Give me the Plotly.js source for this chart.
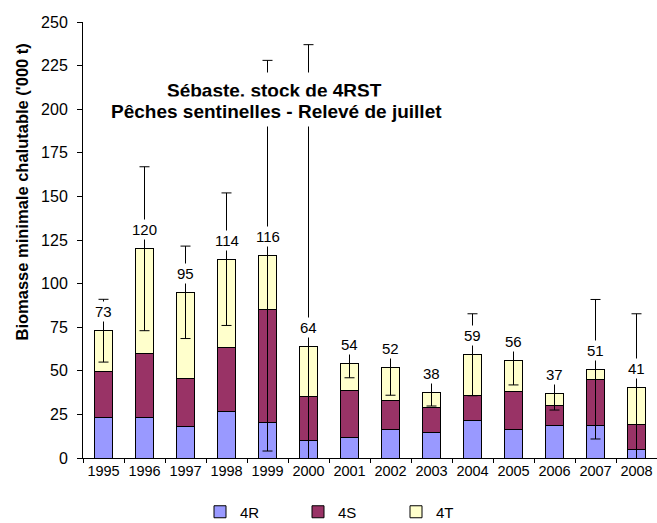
<!DOCTYPE html>
<html>
<head>
<meta charset="utf-8">
<script src="https://cdn.plot.ly/plotly-3.0.1.min.js"></script>
<style>html,body{margin:0;padding:0;background:#fff;}#chart{width:657px;height:523px;}</style>
</head>
<body>
<div id="chart"></div>
<script>
const years = ['1995','1996','1997','1998','1999','2000','2001','2002','2003','2004','2005','2006','2007','2008'];
const r4 = [23.2, 23.0, 17.9, 26.8, 20.2, 10.3, 11.8, 16.6, 14.5, 21.5, 16.6, 18.6, 18.6, 5.0];
const s4 = [26.3, 37.0, 27.6, 36.6, 65.2, 24.7, 27.0, 16.5, 14.4, 14.3, 21.3, 11.6, 26.3, 14.2];
const t4 = [23.5, 60.0, 49.5, 50.6, 30.6, 29.0, 15.2, 18.9, 8.9, 23.4, 18.0, 6.8, 6.0, 21.5];
const errUp   = [18, 47, 26.5, 38, 112, 173, 8, 8, 8, 23.5, 10, 9.5, 40, 42];
const errDown = [18, 47, 26.5, 38, 112, 173, 8, 16, 8, 23.5, 14, 9.5, 40, 42];
const seriesNames = ['4R','4S','4T'];
const seriesColors = ['#9999FF','#993366','#FFFFCC'];
const titleLines = ['Sébaste, stock de 4RST','Pêches sentinelles - Relevé de juillet'];
const yTitle = "Biomasse minimale chalutable ('000 t)";

const totals = years.map((_, i) => r4[i] + s4[i] + t4[i]);
const font = 'Liberation Sans, Arial, sans-serif';
const W = 657, H = 523, L = 83, R = 0, T = 22, B = 65;

const traces = [r4, s4, t4].map((vals, k) => ({
  type: 'bar', x: years, y: vals, name: seriesNames[k],
  marker: {color: seriesColors[k], line: {color: '#000', width: 1}}
}));
traces.push({
  type: 'scatter', mode: 'markers', x: years, y: totals, showlegend: false,
  marker: {size: 1, opacity: 0},
  error_y: {type: 'data', symmetric: false, array: errUp, arrayminus: errDown,
            color: '#000', thickness: 1, width: 5},
  hoverinfo: 'skip'
});

const annotations = years.map((yr, i) => ({
  x: i, y: totals[i], xref: 'x', yref: 'y', text: String(Math.round(totals[i])),
  showarrow: false, xanchor: 'center', yanchor: 'middle', yshift: 19,
  bgcolor: '#fff', borderpad: 1,
  font: {family: font, size: 15, color: '#000'}
}));
// chart title lines (positions in container pixels), white boxes hide error bars behind
const titlePos = [[274, 90, 7], [276, 111, 4]];
titleLines.forEach((t, j) => annotations.push({
  x: titlePos[j][0] / W, y: 1 - titlePos[j][1] / H, xref: 'paper', yref: 'paper',
  text: '<b>' + t + '</b>', showarrow: false, xanchor: 'center', yanchor: 'middle',
  bgcolor: '#fff', borderpad: titlePos[j][2],
  font: {family: font, size: 19, color: '#000'}
}));
annotations.forEach(a => {
  if (a.xref === 'paper') {
    const px = a.x * W, py = (1 - a.y) * H;
    a.x = (px - L) / (W - L - R);
    a.y = 1 - (py - T) / (H - T - B);
  }
});
// y-axis title as rotated annotation
annotations.push({
  x: (21.5 - L) / (W - L - R), y: 1 - (192 - T) / (H - T - B), xref: 'paper', yref: 'paper',
  text: '<b>' + yTitle + '</b>', showarrow: false, textangle: -90,
  xanchor: 'center', yanchor: 'middle',
  font: {family: font, size: 16.5, color: '#000'}
});

const layout = {
  width: W, height: H, margin: {l: L, r: R, t: T, b: B},
  paper_bgcolor: '#fff', plot_bgcolor: '#fff',
  barmode: 'stack', bargap: 0.58,
  font: {family: font, size: 15, color: '#000'},
  xaxis: {type: 'category', categoryorder: 'array', categoryarray: years, range: [-0.5, 13.5],
          showline: true, linecolor: '#000', linewidth: 1, tickangle: 0,
          ticks: 'outside', tickson: 'boundaries', ticklen: 4, tickcolor: '#000',
          showgrid: false, zeroline: false, tickfont: {size: 14.5}},
  yaxis: {range: [0, 250], tickvals: [0,25,50,75,100,125,150,175,200,225,250],
          showline: true, linecolor: '#000', linewidth: 1, ticks: 'outside', ticklen: 5,
          tickcolor: '#000', showgrid: false, zeroline: false, tickfont: {size: 16},
          ticklabelstandoff: 6},
  legend: {orientation: 'h', xref: 'container', yref: 'container', x: 200 / W, xanchor: 'left',
           y: (H - 512) / H, yanchor: 'middle', entrywidth: 53,
           font: {size: 15}, traceorder: 'normal'},
  annotations: annotations,
  showlegend: true
};

Plotly.newPlot('chart', traces, layout, {displayModeBar: false, staticPlot: true});
</script>
</body>
</html>
